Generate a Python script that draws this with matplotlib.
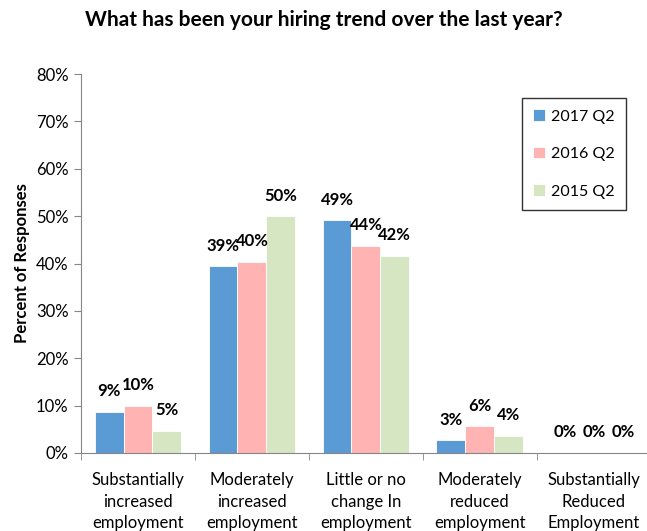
import numpy as np
import matplotlib.pyplot as plt
from matplotlib.ticker import FixedLocator, PercentFormatter

plt.rcParams['font.family'] = ['Lato', 'DejaVu Sans']

categories = ['Substantially\nincreased\nemployment', 'Moderately\nincreased\nemployment',
              'Little or no\nchange In\nemployment', 'Moderately\nreduced\nemployment',
              'Substantially\nReduced\nEmployment']
series = ['2017 Q2', '2016 Q2', '2015 Q2']
q2_2017 = [8.7, 39.4, 49.1, 2.7, 0.0]
q2_2016 = [10.0, 40.4, 43.8, 5.6, 0.0]
q2_2015 = [4.7, 50.0, 41.6, 3.6, 0.0]
colors = ['#5B9BD5', '#FFB3B3', '#D6E6C3']

fig = plt.figure(figsize=(6.47, 5.31), dpi=100)
ax = fig.add_axes([0.1252, 0.1469, 0.8808, 0.7137])

x = np.arange(len(categories))
w = 0.254
for i, (name, vals, c) in enumerate(zip(series, [q2_2017, q2_2016, q2_2015], colors)):
    pos = x + (i - 1) * w
    ax.bar(pos, vals, w, color=c, edgecolor='white', linewidth=0.6, label=name)
    for px, v in zip(pos, vals):
        ax.annotate(f'{v:.0f}%', (px, v), xytext=(0, 9), textcoords='offset points',
                    ha='center', va='bottom', fontsize=12, fontweight='bold')

ax.set_xlim(-0.5, len(categories) - 0.5)
ax.set_ylim(0, 80)
ax.yaxis.set_major_locator(FixedLocator(np.arange(0, 81, 10)))
ax.yaxis.set_major_formatter(PercentFormatter(decimals=0))
ax.set_xticks(x)
ax.set_xticklabels(categories, fontsize=12, linespacing=1.4)
ax.xaxis.set_minor_locator(FixedLocator(np.arange(-0.5, len(categories), 1)))
ax.tick_params(axis='x', which='major', length=0, pad=14)
ax.tick_params(axis='x', which='minor', length=5, color='#868686', direction='out')
ax.tick_params(axis='y', length=5, color='#868686', labelsize=12, pad=4)

for s in ['top', 'right']:
    ax.spines[s].set_visible(False)
for s in ['left', 'bottom']:
    ax.spines[s].set_color('#868686')

ax.set_ylabel('Percent of Responses', fontsize=12, fontweight='bold', labelpad=4)
fig.suptitle('What has been your hiring trend over the last year?', x=0.5, y=0.982,
             fontsize=15, fontweight='bold')

leg = ax.legend(loc='upper left', bbox_to_anchor=(0.7737, 0.9367), fontsize=11.5,
                frameon=True, fancybox=False, edgecolor='black', labelspacing=1.45,
                handlelength=0.75, handleheight=0.75, handletextpad=0.4,
                borderpad=0.7, borderaxespad=0)
leg.get_frame().set_linewidth(1.0)

fig.savefig('out.png', dpi=100)
